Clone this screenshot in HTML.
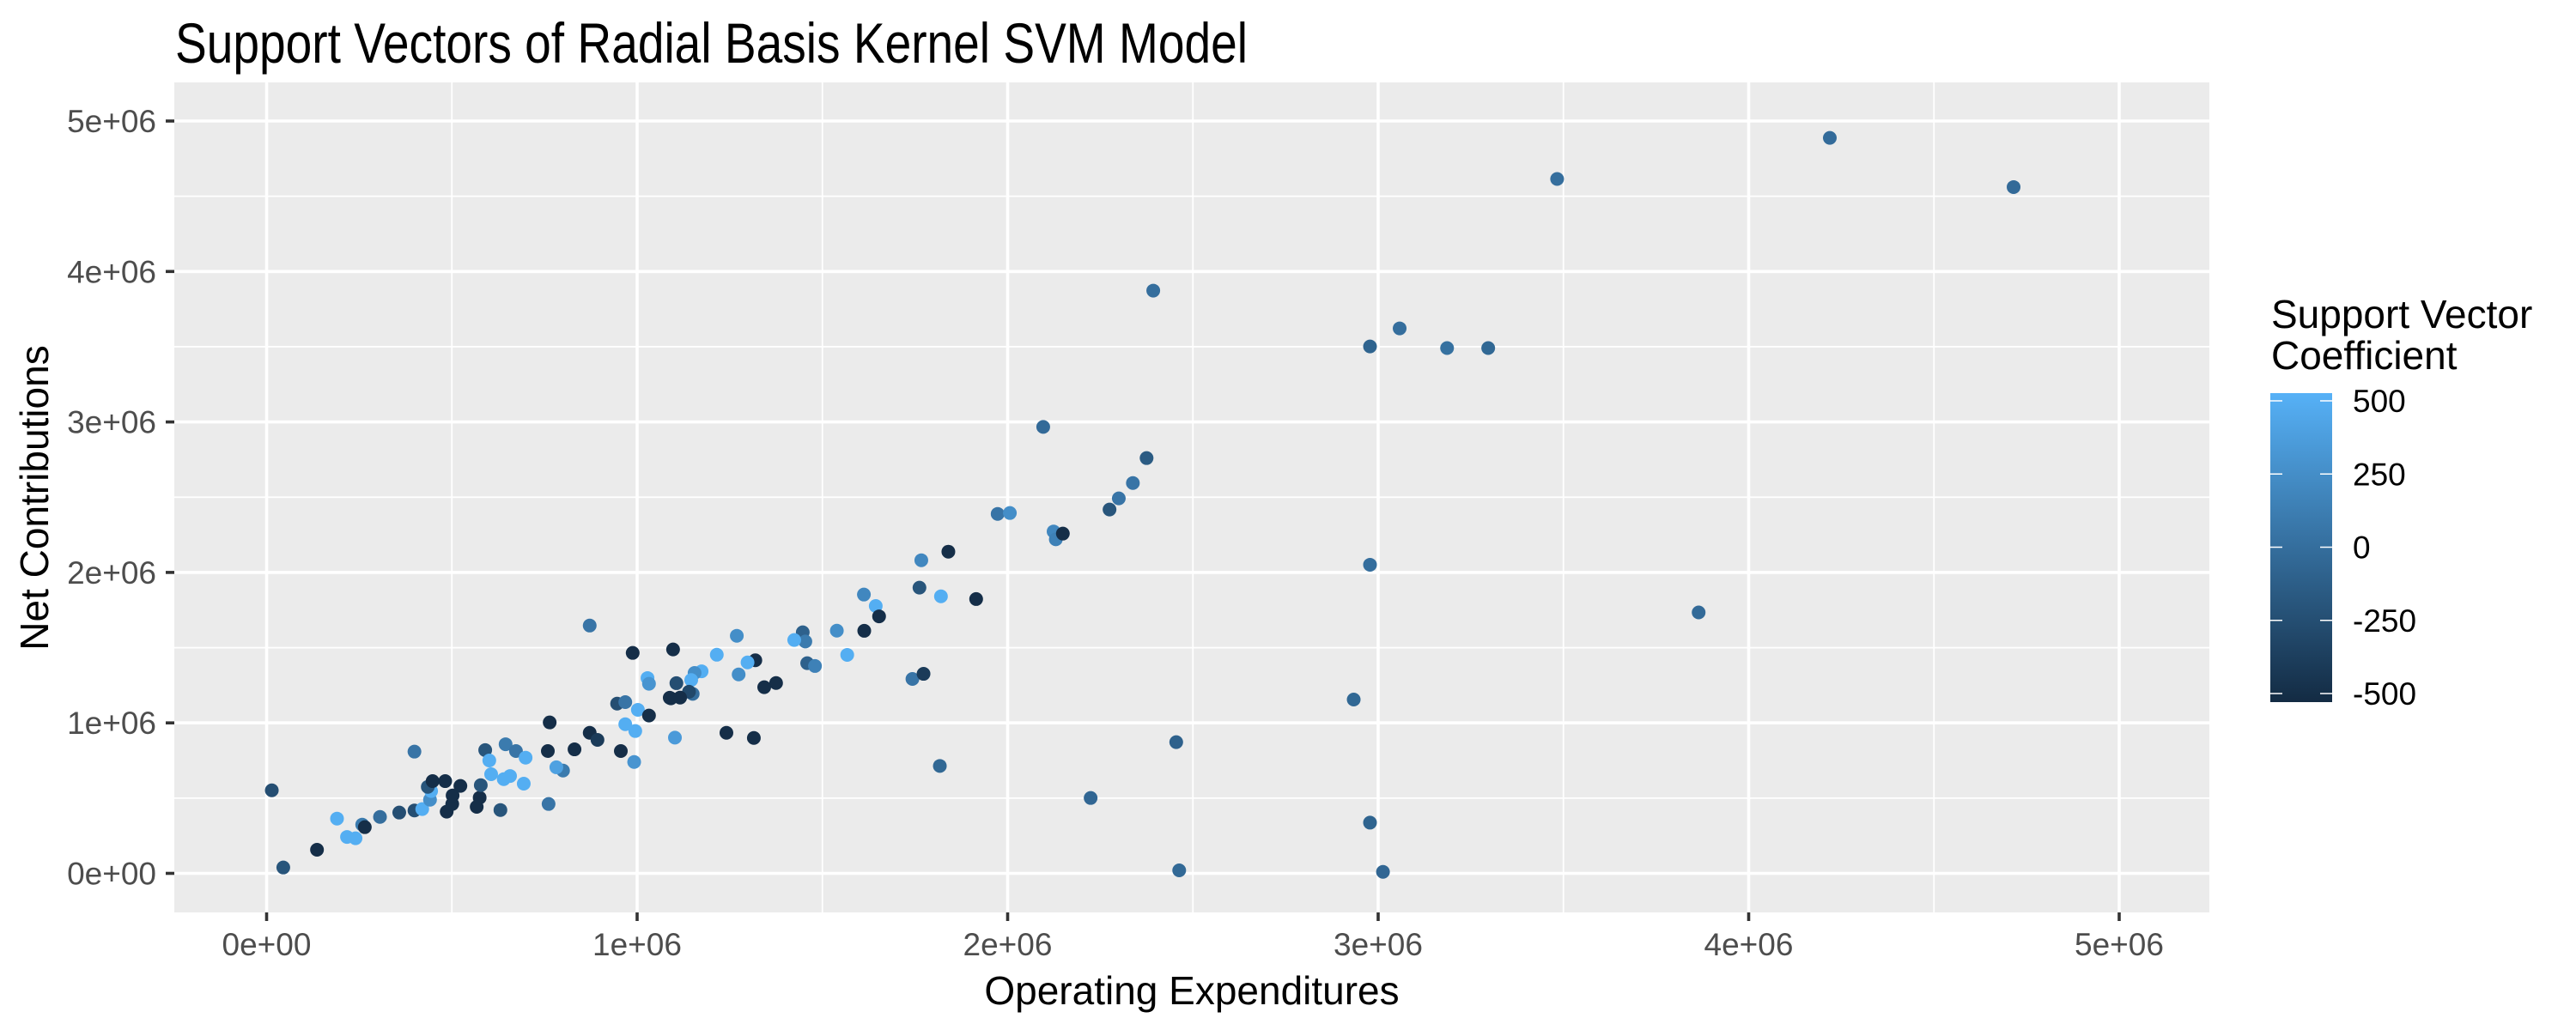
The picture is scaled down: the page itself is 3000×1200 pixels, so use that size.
<!DOCTYPE html>
<html><head><meta charset="utf-8"><style>
html,body{margin:0;padding:0;background:#fff;}
svg{display:block;font-family:"Liberation Sans",Arial,sans-serif;}
</style></head><body>
<svg id="chart" width="3000" height="1200" viewBox="0 0 3000 1200">
<text x="204" y="73" font-size="66" textLength="1249" lengthAdjust="spacingAndGlyphs" fill="#000">Support Vectors of Radial Basis Kernel SVM Model</text>
<rect x="203" y="96" width="2370" height="967" fill="#ebebeb"/>
<g id="grid"></g>
<g id="points"></g>
<g id="axes"></g>
<text x="1388" y="1170" font-size="46" text-anchor="middle" fill="#000">Operating Expenditures</text>
<text transform="translate(56,580) rotate(-90)" font-size="46" text-anchor="middle" fill="#000">Net Contributions</text>
<g>
<text x="2645" y="382" font-size="46" fill="#000">Support Vector</text>
<text x="2645" y="430" font-size="46" fill="#000">Coefficient</text>
<defs><linearGradient id="cg" x1="0" y1="1" x2="0" y2="0"><stop offset="0" stop-color="#132B43"/><stop offset="1" stop-color="#56B1F7"/></linearGradient></defs>
<rect x="2644" y="458" width="72" height="360" fill="url(#cg)"/>
<g id="legendTicks"></g>
</g>
</svg>
<script>
const xTicks = [0, 1, 2, 3, 4, 5];
const xTickLabels = ["0e+00", "1e+06", "2e+06", "3e+06", "4e+06", "5e+06"];
const yTicks = [0, 1, 2, 3, 4, 5];
const yTickLabels = ["0e+00", "1e+06", "2e+06", "3e+06", "4e+06", "5e+06"];
const legendTicks = [500, 250, 0, -250, -500];
// values in millions
const opex = [0.014,0.045,0.136,0.19,0.217,0.24,0.258,0.265,0.306,0.358,0.399,0.399,0.42,0.441,0.444,0.435,0.448,0.482,0.486,0.501,0.502,0.523,0.567,0.575,0.578,0.59,0.601,0.606,0.631,0.64,0.657,0.645,0.673,0.699,0.694,0.761,0.764,0.759,0.8,0.782,0.831,0.872,0.893,0.956,0.992,0.946,0.968,1.002,1.032,0.968,0.995,1.028,1.032,1.088,1.84,1.767,1.762,1.82,1.915,1.612,1.644,1.653,1.613,1.539,1.447,1.454,1.424,1.567,1.459,1.48,1.743,1.773,1.817,1.269,1.215,1.319,1.298,1.274,1.375,1.343,1.241,1.315,1.174,1.155,1.146,1.106,1.15,1.14,1.091,1.116,1.097,0.988,0.872,1.102,2.338,2.3,2.275,1.973,2.006,2.124,2.13,2.149,3.483,4.219,4.715,2.393,2.978,3.058,3.186,3.297,2.096,2.375,2.978,3.865,2.934,2.455,2.224,2.978,2.463,3.013];
const netContrib = [0.552,0.039,0.157,0.364,0.242,0.233,0.324,0.307,0.375,0.404,0.809,0.418,0.427,0.489,0.547,0.575,0.613,0.613,0.41,0.461,0.518,0.581,0.442,0.503,0.586,0.819,0.75,0.659,0.421,0.626,0.647,0.858,0.813,0.769,0.596,0.461,1.003,0.813,0.683,0.705,0.824,0.934,0.887,0.813,0.74,1.128,1.138,1.087,1.049,0.991,0.946,1.298,1.26,1.167,2.138,2.081,1.899,1.841,1.823,1.853,1.777,1.708,1.612,1.613,1.602,1.541,1.551,1.452,1.397,1.378,1.292,1.326,0.714,1.579,1.453,1.416,1.402,1.322,1.265,1.237,0.934,0.9,1.343,1.332,1.285,1.264,1.193,1.207,1.163,1.168,1.488,1.465,1.647,0.902,2.594,2.492,2.418,2.389,2.395,2.272,2.22,2.258,4.615,4.888,4.561,3.873,3.502,3.622,3.491,3.491,2.967,2.76,2.051,1.734,1.155,0.872,0.501,0.337,0.02,0.01];
const coef = [-250,-200,-500,500,500,500,100,-500,0,-250,50,-250,500,250,500,-200,-500,-500,-500,-500,-500,-500,-500,-500,-200,-200,500,500,-200,500,500,100,50,500,500,50,-500,-500,100,400,-500,-500,-400,-500,300,-250,50,500,-500,500,500,500,300,-500,-500,200,-200,500,-500,200,500,-500,-500,250,-100,100,500,500,-100,150,50,-400,-50,250,500,-500,500,250,-500,-500,-500,-500,500,250,500,-250,0,-300,-500,-500,-500,-500,50,350,50,50,-200,50,250,200,150,-500,0,-20,-30,0,-80,0,20,-50,-30,-150,0,-30,-50,-100,-60,-80,-40,-60];

const NS="http://www.w3.org/2000/svg";
const X0=310.5, XS=431.5, Y0=1017.5, YS=175.3;
const PL=203, PR=2573, PT=96, PB=1063;
function sx(v){return X0+v*XS;}
function sy(v){return Y0-v*YS;}
function mk(tag,attrs,parent){const e=document.createElementNS(NS,tag);for(const k in attrs)e.setAttribute(k,attrs[k]);parent.appendChild(e);return e;}
function col(c){let t=(c+527)/1054;t=Math.max(0,Math.min(1,t));
 const a=[19,43,67],b=[86,177,247];return "rgb("+a.map((v,i)=>Math.round(v+(b[i]-v)*t)).join(",")+")";}
const grid=document.getElementById('grid');
for(let v=0.5;v<5;v+=1){
 let l=mk('line',{x1:sx(v),x2:sx(v),y1:PT,y2:PB,stroke:'#fff','stroke-width':1.8},grid);
 
 
 let m=mk('line',{x1:PL,x2:PR,y1:sy(v),y2:sy(v),stroke:'#fff','stroke-width':1.8},grid);
 
 
}
const axes=document.getElementById('axes');
xTicks.forEach((v,i)=>{
 let l=mk('line',{x1:sx(v),x2:sx(v),y1:PT,y2:PB,stroke:'#fff','stroke-width':3.6},grid);
 
 
 let t=mk('line',{x1:sx(v),x2:sx(v),y1:PB,y2:PB+10,stroke:'#333','stroke-width':3.6},axes);
 
 
 let tx=mk('text',{x:sx(v),y:1113,'font-size':37,'text-anchor':'middle',fill:'#4d4d4d'},axes);
 tx.textContent=xTickLabels[i];
 
 
});
yTicks.forEach((v,i)=>{
 let l=mk('line',{x1:PL,x2:PR,y1:sy(v),y2:sy(v),stroke:'#fff','stroke-width':3.6},grid);
 
 
 let t=mk('line',{x1:PL-10,x2:PL,y1:sy(v),y2:sy(v),stroke:'#333','stroke-width':3.6},axes);
 
 
 let tx=mk('text',{x:182,y:sy(v)+13,'font-size':37,'text-anchor':'end',fill:'#4d4d4d'},axes);
 tx.textContent=yTickLabels[i];
 
 
});
const pts=document.getElementById('points');
opex.forEach((v,i)=>{
 let c=mk('circle',{cx:sx(v),cy:sy(netContrib[i]),r:8,fill:col(coef[i])},pts);
 
 
});
const lt=document.getElementById('legendTicks');
legendTicks.forEach(v=>{
 const y=467+(500-v)/1000*341;
 let a=mk('line',{x1:2644,x2:2658,y1:y,y2:y,stroke:'#fff','stroke-width':1.5},lt);
 
 
 let b=mk('line',{x1:2702,x2:2716,y1:y,y2:y,stroke:'#fff','stroke-width':1.5},lt);
 
 
 let t=mk('text',{x:2740,y:y+13,'font-size':37,fill:'#000'},lt);
 t.textContent=String(v);
 
 
});
</script>
</body></html>
